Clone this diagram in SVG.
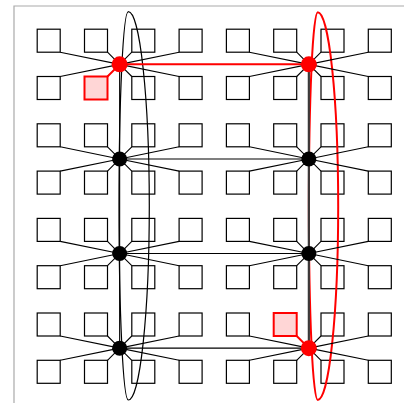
<svg xmlns="http://www.w3.org/2000/svg" width="404" height="403" viewBox="0 0 404 403">
<style>
.sq{fill:#fff;stroke:#000;stroke-width:1.2}
.sqr{fill:#ffd6d6;stroke:#f00;stroke-width:2}
.hub{fill:#000}
.hubr{fill:#f00}
.c{stroke:#000;stroke-width:1.1;fill:none}
.cg{stroke:#3a3a3a;stroke-width:2.2;fill:none}
.cr{stroke:#f00;stroke-width:2;fill:none}
.loop{fill:none;stroke:#000;stroke-width:1.2}
.loopr{fill:none;stroke:#f00;stroke-width:2}
.frame{stroke:#aaa;stroke-width:1.2;fill:none}
</style>
<rect width="404" height="403" fill="#fff"/>
<path class="frame" d="M14,403 V6 H404"/>
<g id="squares">
<g id="s00"><rect class="sq" x="37.2" y="29.2" width="23" height="23"/></g>
<g id="s01"><rect class="sq" x="84.5" y="29.2" width="23" height="23"/></g>
<g id="s02"><rect class="sq" x="131.8" y="29.2" width="23" height="23"/></g>
<g id="s03"><rect class="sq" x="179.1" y="29.2" width="23" height="23"/></g>
<g id="s04"><rect class="sq" x="226.4" y="29.2" width="23" height="23"/></g>
<g id="s05"><rect class="sq" x="273.7" y="29.2" width="23" height="23"/></g>
<g id="s06"><rect class="sq" x="321" y="29.2" width="23" height="23"/></g>
<g id="s07"><rect class="sq" x="368.3" y="29.2" width="23" height="23"/></g>
<g id="s10"><rect class="sq" x="37.2" y="76.5" width="23" height="23"/></g>
<g id="s11"><rect class="sqr" x="84.5" y="76.5" width="23" height="23"/></g>
<g id="s12"><rect class="sq" x="131.8" y="76.5" width="23" height="23"/></g>
<g id="s13"><rect class="sq" x="179.1" y="76.5" width="23" height="23"/></g>
<g id="s14"><rect class="sq" x="226.4" y="76.5" width="23" height="23"/></g>
<g id="s15"><rect class="sq" x="273.7" y="76.5" width="23" height="23"/></g>
<g id="s16"><rect class="sq" x="321" y="76.5" width="23" height="23"/></g>
<g id="s17"><rect class="sq" x="368.3" y="76.5" width="23" height="23"/></g>
<g id="s20"><rect class="sq" x="37.2" y="123.8" width="23" height="23"/></g>
<g id="s21"><rect class="sq" x="84.5" y="123.8" width="23" height="23"/></g>
<g id="s22"><rect class="sq" x="131.8" y="123.8" width="23" height="23"/></g>
<g id="s23"><rect class="sq" x="179.1" y="123.8" width="23" height="23"/></g>
<g id="s24"><rect class="sq" x="226.4" y="123.8" width="23" height="23"/></g>
<g id="s25"><rect class="sq" x="273.7" y="123.8" width="23" height="23"/></g>
<g id="s26"><rect class="sq" x="321" y="123.8" width="23" height="23"/></g>
<g id="s27"><rect class="sq" x="368.3" y="123.8" width="23" height="23"/></g>
<g id="s30"><rect class="sq" x="37.2" y="171.1" width="23" height="23"/></g>
<g id="s31"><rect class="sq" x="84.5" y="171.1" width="23" height="23"/></g>
<g id="s32"><rect class="sq" x="131.8" y="171.1" width="23" height="23"/></g>
<g id="s33"><rect class="sq" x="179.1" y="171.1" width="23" height="23"/></g>
<g id="s34"><rect class="sq" x="226.4" y="171.1" width="23" height="23"/></g>
<g id="s35"><rect class="sq" x="273.7" y="171.1" width="23" height="23"/></g>
<g id="s36"><rect class="sq" x="321" y="171.1" width="23" height="23"/></g>
<g id="s37"><rect class="sq" x="368.3" y="171.1" width="23" height="23"/></g>
<g id="s40"><rect class="sq" x="37.2" y="218.4" width="23" height="23"/></g>
<g id="s41"><rect class="sq" x="84.5" y="218.4" width="23" height="23"/></g>
<g id="s42"><rect class="sq" x="131.8" y="218.4" width="23" height="23"/></g>
<g id="s43"><rect class="sq" x="179.1" y="218.4" width="23" height="23"/></g>
<g id="s44"><rect class="sq" x="226.4" y="218.4" width="23" height="23"/></g>
<g id="s45"><rect class="sq" x="273.7" y="218.4" width="23" height="23"/></g>
<g id="s46"><rect class="sq" x="321" y="218.4" width="23" height="23"/></g>
<g id="s47"><rect class="sq" x="368.3" y="218.4" width="23" height="23"/></g>
<g id="s50"><rect class="sq" x="37.2" y="265.7" width="23" height="23"/></g>
<g id="s51"><rect class="sq" x="84.5" y="265.7" width="23" height="23"/></g>
<g id="s52"><rect class="sq" x="131.8" y="265.7" width="23" height="23"/></g>
<g id="s53"><rect class="sq" x="179.1" y="265.7" width="23" height="23"/></g>
<g id="s54"><rect class="sq" x="226.4" y="265.7" width="23" height="23"/></g>
<g id="s55"><rect class="sq" x="273.7" y="265.7" width="23" height="23"/></g>
<g id="s56"><rect class="sq" x="321" y="265.7" width="23" height="23"/></g>
<g id="s57"><rect class="sq" x="368.3" y="265.7" width="23" height="23"/></g>
<g id="s60"><rect class="sq" x="37.2" y="313" width="23" height="23"/></g>
<g id="s61"><rect class="sq" x="84.5" y="313" width="23" height="23"/></g>
<g id="s62"><rect class="sq" x="131.8" y="313" width="23" height="23"/></g>
<g id="s63"><rect class="sq" x="179.1" y="313" width="23" height="23"/></g>
<g id="s64"><rect class="sq" x="226.4" y="313" width="23" height="23"/></g>
<g id="s65"><rect class="sqr" x="273.7" y="313" width="23" height="23"/></g>
<g id="s66"><rect class="sq" x="321" y="313" width="23" height="23"/></g>
<g id="s67"><rect class="sq" x="368.3" y="313" width="23" height="23"/></g>
<g id="s70"><rect class="sq" x="37.2" y="360.3" width="23" height="23"/></g>
<g id="s71"><rect class="sq" x="84.5" y="360.3" width="23" height="23"/></g>
<g id="s72"><rect class="sq" x="131.8" y="360.3" width="23" height="23"/></g>
<g id="s73"><rect class="sq" x="179.1" y="360.3" width="23" height="23"/></g>
<g id="s74"><rect class="sq" x="226.4" y="360.3" width="23" height="23"/></g>
<g id="s75"><rect class="sq" x="273.7" y="360.3" width="23" height="23"/></g>
<g id="s76"><rect class="sq" x="321" y="360.3" width="23" height="23"/></g>
<g id="s77"><rect class="sq" x="368.3" y="360.3" width="23" height="23"/></g>
</g>
<g id="hyperedges">
<path id="loop-left" class="loop" d="M128.3,11.7A21,194.15 0 0 1 128.3,400A9.3,194.15 0 0 1 128.3,11.7Z"/>
<path id="loop-right" class="loopr" d="M317.7,12.3A20.5,193.85 0 0 1 317.7,400A8.85,193.85 0 0 1 317.7,12.3Z"/>
</g>
<g id="connectors">
<path class="c" d="M119.65,64.35L60.2,52.2M119.65,64.35L107.5,52.2M119.65,64.35L131.8,52.2M119.65,64.35L179.1,52.2M119.65,64.35L60.2,76.5M119.65,64.35L131.8,76.5M119.65,64.35L179.1,76.5"/>
<path class="c" d="M308.85,64.35L249.4,52.2M308.85,64.35L296.7,52.2M308.85,64.35L321,52.2M308.85,64.35L368.3,52.2M308.85,64.35L249.4,76.5M308.85,64.35L296.7,76.5M308.85,64.35L321,76.5M308.85,64.35L368.3,76.5"/>
<path class="c" d="M119.65,158.95L60.2,146.8M119.65,158.95L107.5,146.8M119.65,158.95L131.8,146.8M119.65,158.95L179.1,146.8M119.65,158.95L60.2,171.1M119.65,158.95L107.5,171.1M119.65,158.95L131.8,171.1M119.65,158.95L179.1,171.1"/>
<path class="c" d="M308.85,158.95L249.4,146.8M308.85,158.95L296.7,146.8M308.85,158.95L321,146.8M308.85,158.95L368.3,146.8M308.85,158.95L249.4,171.1M308.85,158.95L296.7,171.1M308.85,158.95L321,171.1M308.85,158.95L368.3,171.1"/>
<path class="c" d="M119.65,253.55L60.2,241.4M119.65,253.55L107.5,241.4M119.65,253.55L131.8,241.4M119.65,253.55L179.1,241.4M119.65,253.55L60.2,265.7M119.65,253.55L107.5,265.7M119.65,253.55L131.8,265.7M119.65,253.55L179.1,265.7"/>
<path class="c" d="M308.85,253.55L249.4,241.4M308.85,253.55L296.7,241.4M308.85,253.55L321,241.4M308.85,253.55L368.3,241.4M308.85,253.55L249.4,265.7M308.85,253.55L296.7,265.7M308.85,253.55L321,265.7M308.85,253.55L368.3,265.7"/>
<path class="c" d="M119.65,348.15L60.2,336M119.65,348.15L107.5,336M119.65,348.15L131.8,336M119.65,348.15L179.1,336M119.65,348.15L60.2,360.3M119.65,348.15L107.5,360.3M119.65,348.15L131.8,360.3M119.65,348.15L179.1,360.3"/>
<path class="c" d="M308.85,348.15L249.4,336M308.85,348.15L321,336M308.85,348.15L368.3,336M308.85,348.15L249.4,360.3M308.85,348.15L296.7,360.3M308.85,348.15L321,360.3M308.85,348.15L368.3,360.3"/>
<path class="c" d="M119.65,158.95H308.85M119.65,253.55H308.85M119.65,348.15H308.85M119.65,64.35V348.15"/>
<path class="cg" d="M308.85,64.35V348.15"/>
<path class="cr" d="M119.65,64.35H308.85M119.65,64.35L107.5,76.5M308.85,348.15L296.7,336"/>
</g>
<g id="hubs">
<g id="hA"><circle class="hubr" cx="119.65" cy="64.35" r="8"/></g>
<g id="hB"><circle class="hubr" cx="308.85" cy="64.35" r="8"/></g>
<g id="hC"><circle class="hub" cx="119.65" cy="158.95" r="7.5"/></g>
<g id="hD"><circle class="hub" cx="308.85" cy="158.95" r="7.5"/></g>
<g id="hE"><circle class="hub" cx="119.65" cy="253.55" r="7.5"/></g>
<g id="hF"><circle class="hub" cx="308.85" cy="253.55" r="7.5"/></g>
<g id="hG"><circle class="hub" cx="119.65" cy="348.15" r="7.5"/></g>
<g id="hH"><circle class="hubr" cx="308.85" cy="348.15" r="8"/></g>
</g>
</svg>
